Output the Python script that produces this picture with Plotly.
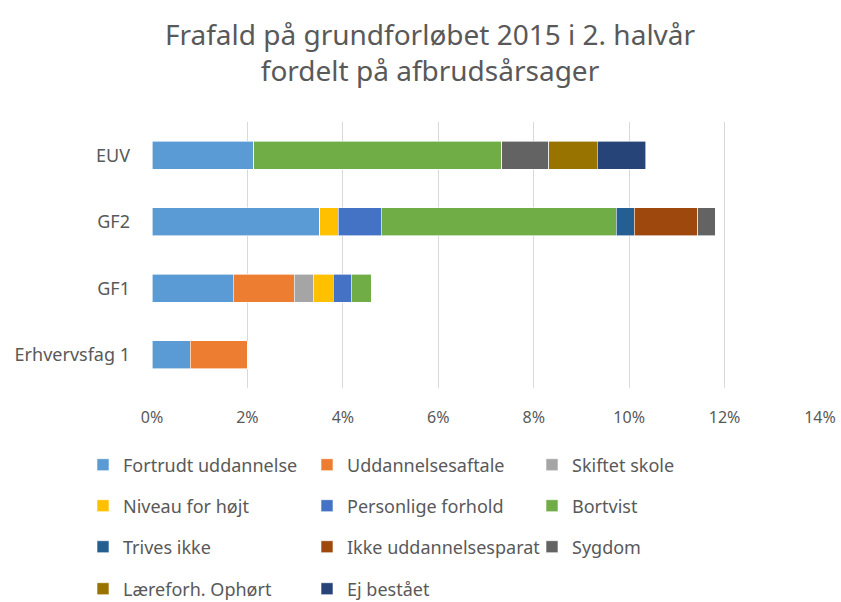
import plotly.graph_objects as go

categories = ["Erhvervsfag 1", "GF1", "GF2", "EUV"]

series_names = [
    "Fortrudt uddannelse", "Uddannelsesaftale", "Skiftet skole",
    "Niveau for højt", "Personlige forhold", "Bortvist",
    "Trives ikke", "Ikke uddannelsesparat", "Sygdom",
    "Læreforh. Ophørt", "Ej bestået",
]

fortrudt = [0.008, 0.017, 0.0352, 0.0213]
uddannelsesaftale = [0.012, 0.0128, 0, 0]
skiftet = [0, 0.004, 0, 0]
niveau = [0, 0.0042, 0.0038, 0]
personlige = [0, 0.0038, 0.009, 0]
bortvist = [0, 0.0041, 0.0493, 0.052]
trives = [0, 0, 0.0038, 0]
ikke_parat = [0, 0, 0.0133, 0]
sygdom = [0, 0, 0.0037, 0.0098]
laereforh = [0, 0, 0, 0.0102]
ej_bestaaet = [0, 0, 0, 0.0102]

values = [fortrudt, uddannelsesaftale, skiftet, niveau, personlige, bortvist,
          trives, ikke_parat, sygdom, laereforh, ej_bestaaet]

colors = ["#5B9BD5", "#ED7D31", "#A5A5A5", "#FFC000", "#4472C4", "#70AD47",
          "#255E91", "#9E480E", "#636363", "#997300", "#264478"]

FONT = "Noto Sans"
GREY = "#595959"

W, H = 841, 602
col_x = [83, 307, 532]
row_y = [465, 506, 547, 589]

fig = go.Figure()
legends = {}
for i, (name, vals, col) in enumerate(zip(series_names, values, colors)):
    lid = "legend" if i == 0 else f"legend{i + 1}"
    fig.add_trace(go.Bar(
        y=categories, x=vals, name=name, orientation="h",
        marker=dict(color=col, line=dict(color="white", width=0.6)),
        legend=lid,
    ))
    r, c = divmod(i, 3)
    legends[lid] = dict(
        orientation="h", xanchor="left", yanchor="middle",
        xref="container", yref="container",
        x=col_x[c] / W, y=1 - row_y[r] / H,
        font=dict(family=FONT, size=18, color=GREY),
        bgcolor="rgba(0,0,0,0)",
    )

fig.update_layout(
    width=W, height=H,
    barmode="stack",
    bargap=0.58,
    plot_bgcolor="white", paper_bgcolor="white",
    margin=dict(l=152, r=21, t=122, b=214, autoexpand=False),
    title=dict(text="Frafald på grundforløbet 2015 i 2. halvår<br>fordelt på afbrudsårsager",
               x=430 / W, xanchor="center", y=1 - 44.5 / H, yanchor="middle",
               font=dict(family=FONT, size=28, color=GREY)),
    xaxis=dict(range=[0, 0.14], dtick=0.02, tickformat=".0%",
               showgrid=True, gridcolor="#D9D9D9", gridwidth=1,
               zeroline=False, showline=False, automargin=False,
               tickfont=dict(family=FONT, size=16, color=GREY),
               ticklabelstandoff=18),
    yaxis=dict(showgrid=False, showline=False, zeroline=False, automargin=False,
               tickfont=dict(family=FONT, size=18, color=GREY),
               ticklabelstandoff=21),
    showlegend=True,
    **legends,
)

fig.write_html(
    "out.html",
    config={"displayModeBar": False},
    post_script="document.body.style.margin='0';"
                "document.documentElement.style.overflow='hidden';",
)
